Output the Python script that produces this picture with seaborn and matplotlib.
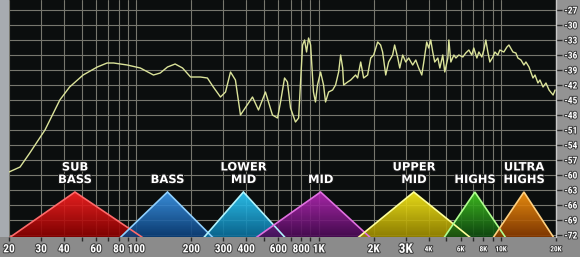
import numpy as np
import pandas as pd
import matplotlib
matplotlib.use("Agg")
import matplotlib.pyplot as plt
import seaborn as sns
from matplotlib.colors import LinearSegmentedColormap
import matplotlib.patheffects as pe
from matplotlib import font_manager

# ---------------- data ----------------
freq_hz = [20, 23, 26, 31.5, 38, 43, 51, 61, 69, 75, 89, 105, 124, 135, 148, 163, 179, 198,
           224, 245, 264, 289, 308, 328, 349, 372, 433, 467, 510, 557, 594, 617, 649, 673,
           700, 745, 775, 815, 836, 857, 879, 902, 935, 959, 984, 1023, 1062, 1089, 1132,
           1191, 1236, 1285, 1318, 1352, 1369, 1440, 1497, 1592, 1633, 1698, 1762, 1853,
           1927, 2000, 2104, 2183, 2239, 2329, 2416, 2541, 2606, 2711, 2780, 2885, 2998,
           3112, 3274, 3404, 3532, 3673, 3767, 3908, 4009, 4112, 4217, 4325, 4498, 4614,
           4786, 4909, 5105, 5169, 5301, 5508, 5649, 5864, 6166, 6399, 6653, 6903, 7081,
           7362, 7551, 7839, 8041, 8247, 8458, 8675, 9016, 9247, 9595, 9842, 10352, 10762,
           11038, 11610, 12050, 12360, 12850, 13340, 13680, 14220, 14960, 15340, 15920,
           16330, 16980, 17620, 18320, 19280, 19770]
level_db = [-59.4, -58.4, -55.6, -51.0, -45.0, -42.4, -40.0, -38.4, -37.6, -37.6, -38.0, -38.6,
            -40.0, -39.6, -38.4, -37.8, -38.6, -40.4,
            -40.4, -40.6, -42.4, -44.4, -43.4, -39.4, -41.0, -48.0, -44.4, -47.0, -43.4, -48.0,
            -48.6, -45.4, -40.6, -41.4,
            -46.6, -49.4, -48.6, -34.0, -33.0, -35.4, -32.6, -34.0, -43.4, -45.4, -42.0, -39.4,
            -42.0, -45.4, -43.4,
            -43.0, -42.0, -39.4, -36.0, -38.6, -42.0, -41.4, -41.0, -40.0, -40.6, -37.4, -40.6,
            -40.0,
            -36.6, -36.0, -33.4, -34.0, -35.4, -40.0, -37.4, -36.0, -34.0, -36.6, -38.6, -36.0,
            -37.4,
            -36.6, -38.0, -37.0, -38.6, -40.0, -37.4, -33.4, -34.6, -33.0, -35.4, -37.4, -36.6,
            -38.6,
            -36.0, -39.4, -36.6, -33.0, -37.4, -36.0, -36.6, -36.0, -36.4, -35.6, -35.0, -36.0,
            -34.6,
            -36.6, -35.4, -36.4, -35.0, -33.0, -35.4, -37.4, -36.4, -35.4, -36.0, -35.0, -35.4,
            -34.4,
            -34.0, -35.4, -35.6, -36.6, -37.0, -38.0, -37.4, -38.4, -40.6, -40.0, -41.6,
            -41.0, -42.4, -41.6, -43.0, -44.0, -43.0]

band_names = ["SUB\nBASS", "BASS", "LOWER\nMID", "MID", "UPPER\nMID", "HIGHS", "ULTRA\nHIGHS"]
band_low_hz = [20, 81, 233, 450, 1633, 4852, 9016]
band_peak_hz = [46, 148, 386, 1023, 3320, 7180, 13340]
band_high_hz = [109, 264, 657, 1927, 6823, 10620, 19500]
band_peak_db = -63.4

grid_hz = [20, 30, 40, 50, 60, 70, 80, 90, 100, 200, 300, 400, 500, 600, 700, 800, 900,
           1000, 2000, 3000, 4000, 5000, 6000, 7000, 8000, 9000, 10000, 20000]
x_label_hz = [20, 30, 40, 60, 80, 100, 200, 300, 400, 600, 800, 1000, 2000, 3000, 4000,
              6000, 8000, 10000, 20000]
x_label_text = ["20", "30", "40", "60", "80", "100", "200", "300", "400", "600", "800", "1K",
                "2K", "3K", "4K", "6K", "8K", "10K", "20K"]
y_ticks_db = [-27, -30, -33, -36, -39, -42, -45, -48, -51, -54, -57, -60, -63, -66, -69, -72]

# ---------------- style ----------------
sns.set_theme(style="dark")
installed = {f.name for f in font_manager.fontManager.ttflist}
narrow = None
for cand in ["Liberation Sans Narrow", "DejaVu Sans Condensed", "Roboto Condensed",
             "Open Sans Condensed"]:
    if cand in installed:
        narrow = cand
        break
plt.rcParams["font.family"] = ["DejaVu Sans"]
plt.rcParams["axes.unicode_minus"] = False
label_family = [narrow, "DejaVu Sans"] if narrow else ["DejaVu Sans"]

W, H = 580, 257
fig = plt.figure(figsize=(W / 100, H / 100), dpi=100, facecolor="#8b8b8b")
fig.patches.append(plt.Rectangle((0, 20 / H), 9 / W, 1 - 20 / H, transform=fig.transFigure,
                                 facecolor="#a7abb0", edgecolor="none", zorder=-5))
fig.patches.append(plt.Rectangle((556 / W, 20 / H), 24 / W, 1 - 20 / H, transform=fig.transFigure,
                                 facecolor="#939393", edgecolor="none", zorder=-5))

ax = fig.add_axes([9 / W, 20 / H, 547 / W, 237 / H])
ax.set_facecolor("#0b0e0e")
ax.set_xscale("log")

base_db = -72.6
colors_top = ["#ff2222", "#3f9cf0", "#2fd0ff", "#b82ab8", "#fff21a", "#44cc22", "#ff9a10"]
colors_bot = ["#8a0000", "#0b3f7a", "#0a6d9a", "#4a0a55", "#9c8a00", "#0e4a10", "#8a3a00"]
colors_edge = ["#ff6a6a", "#8fd0ff", "#b0f4ff", "#e070e0", "#ffff99", "#b0ff90", "#ffd080"]

grad = np.linspace(0, 1, 64).reshape(-1, 1)
for i, name in enumerate(band_names):
    xs = [band_low_hz[i], band_peak_hz[i], band_high_hz[i]]
    ys = [base_db, band_peak_db, base_db]
    poly = ax.fill(xs, ys, facecolor="none", edgecolor="none", zorder=3)[0]
    cmap = LinearSegmentedColormap.from_list(f"b{i}", [colors_bot[i], colors_top[i]])
    im = ax.imshow(grad, extent=[band_low_hz[i], band_high_hz[i], base_db, band_peak_db],
                   origin="lower", aspect="auto", cmap=cmap, alpha=0.9, zorder=3,
                   interpolation="bilinear")
    im.set_clip_path(poly)
    ax.plot(xs, ys, color=colors_edge[i], lw=1.2, zorder=4, solid_joinstyle="miter")
    ax.text(band_peak_hz[i], -62.2, name, ha="center", va="bottom", color="white",
            fontsize=8.3, fontweight="bold", linespacing=0.95, zorder=6,
            path_effects=[pe.withStroke(linewidth=1.6, foreground="#1a1a1a")])

df = pd.DataFrame({"freq": freq_hz, "db": level_db})
sns.lineplot(data=df, x="freq", y="db", ax=ax, color="#dbe39a", lw=1.0, zorder=5,
             estimator=None, sort=False)

ax.set_xlim(20, 20000)
ax.set_ylim(-72.4, -25)
ax.set_xticks(grid_hz)
ax.set_xticklabels([""] * len(grid_hz))
ax.xaxis.set_minor_locator(matplotlib.ticker.NullLocator())
ax.set_yticks(y_ticks_db)
ax.grid(True, which="major", color="#77776e", lw=0.8)
ax.set_axisbelow(True)
ax.set_xlabel("")
ax.set_ylabel("")

ax.tick_params(axis="y", which="major", right=True, left=False, labelright=True,
               labelleft=False, direction="out", length=4, width=1, color="#2a2a2a", pad=2)
ax.set_yticklabels([str(v) for v in y_ticks_db])
for lab in ax.get_yticklabels():
    lab.set_fontweight("bold")
    lab.set_fontsize(6.8)
    lab.set_color("white")
    lab.set_family(label_family)
    lab.set_path_effects([pe.withStroke(linewidth=1.4, foreground="#3a3a3a")])
ax.tick_params(axis="x", which="major", bottom=True, direction="out", length=3, width=1,
               color="#2a2a2a", pad=0)

for s in ["top", "left", "bottom"]:
    ax.spines[s].set_visible(False)
ax.spines["right"].set_color("#c8c8c8")
ax.spines["right"].set_linewidth(1.0)

small = {"4K", "6K", "8K", "10K", "20K"}
for f, t in zip(x_label_hz, x_label_text):
    if t in small:
        fs = 5.2
    elif t == "3K":
        fs = 9.5
    else:
        fs = 8.2 if narrow else 7.0
    ax.text(f, -0.052, t, transform=ax.get_xaxis_transform(), ha="center", va="center",
            color="white", fontsize=fs, fontweight="bold", clip_on=False, family=label_family,
            path_effects=[pe.withStroke(linewidth=1.4, foreground="#3a3a3a")])

fig.savefig("out.png", dpi=100, facecolor=fig.get_facecolor())
